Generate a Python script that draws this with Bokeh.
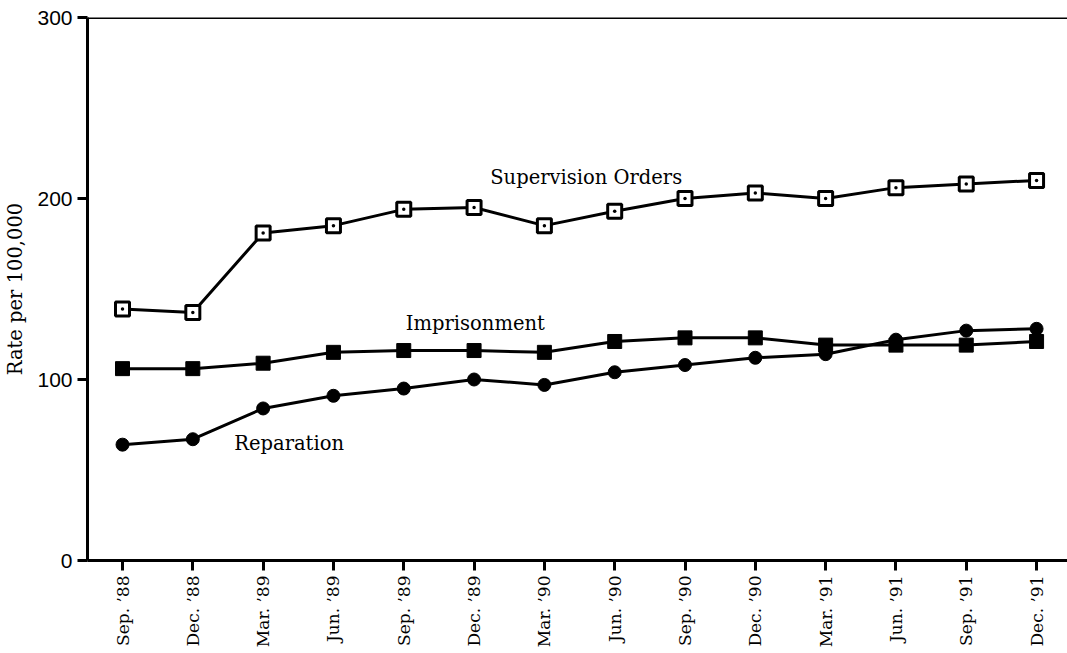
import math
from bokeh.plotting import figure
from bokeh.models import Range1d, FixedTicker, Span, Label
from bokeh.embed import file_html
from bokeh.resources import INLINE

quarters = ["Sep. ’88", "Dec. ’88", "Mar. ’89", "Jun. ’89", "Sep. ’89", "Dec. ’89",
            "Mar. ’90", "Jun. ’90", "Sep. ’90", "Dec. ’90", "Mar. ’91", "Jun. ’91",
            "Sep. ’91", "Dec. ’91"]
supervision = [139, 137, 181, 185, 194, 195, 185, 193, 200, 203, 200, 206, 208, 210]
imprisonment = [106, 106, 109, 115, 116, 116, 115, 121, 123, 123, 119, 119, 119, 121]
reparation = [64, 67, 84, 91, 95, 100, 97, 104, 108, 112, 114, 122, 127, 128]
y_ticks = [0, 100, 200, 300]

x = list(range(len(quarters)))

SERIF = "DejaVu Serif"

p = figure(width=1067, height=650, output_backend="svg", toolbar_location=None,
           x_range=Range1d(-0.498, 13.44), y_range=Range1d(0, 300),
           min_border_left=87, min_border_right=0, min_border_top=17, min_border_bottom=87)
p.outline_line_color = None
p.grid.visible = False
p.background_fill_color = "white"
p.border_fill_color = "white"

# top frame line
p.add_layout(Span(location=300, dimension="width", line_color="black", line_width=3))

# axes
p.xaxis.ticker = FixedTicker(ticks=x)
p.xaxis.major_label_overrides = {i: q for i, q in enumerate(quarters)}
p.xaxis.major_label_orientation = math.pi / 2
p.xaxis.major_label_text_font = SERIF
p.xaxis.major_label_text_font_size = "17px"
p.xaxis.major_label_text_color = "black"
p.xaxis.major_label_standoff = 5
p.yaxis.ticker = FixedTicker(ticks=y_ticks)
p.yaxis.major_label_text_font = "Liberation Sans"
p.yaxis.major_label_text_font_size = "21px"
p.yaxis.major_label_text_color = "black"
p.yaxis.major_label_standoff = 5
p.yaxis.axis_label = "Rate per 100,000"
p.yaxis.axis_label_text_font = SERIF
p.yaxis.axis_label_text_font_size = "19.5px"
p.yaxis.axis_label_text_font_style = "normal"
p.yaxis.axis_label_text_color = "black"
p.yaxis.axis_label_standoff = 7
for ax in (p.xaxis, p.yaxis):
    ax.axis_line_width = 3
    ax.axis_line_color = "black"
    ax.major_tick_line_width = 3
    ax.major_tick_line_color = "black"
    ax.major_tick_in = 0
    ax.major_tick_out = 10
    ax.minor_tick_line_color = None

# series
p.line(x, supervision, line_color="black", line_width=3)
p.scatter(x, supervision, marker="square_dot", size=14, fill_color="white",
          line_color="black", line_width=3)

p.line(x, imprisonment, line_color="black", line_width=3)
p.scatter(x, imprisonment, marker="square", size=14, fill_color="black",
          line_color="black", line_width=1)

p.line(x, reparation, line_color="black", line_width=3)
p.scatter(x, reparation, marker="circle", size=13, fill_color="black",
          line_color="black", line_width=1)

# series labels
for txt, lx, ly in [("Supervision Orders", 5.23, 211.5),
                    ("Imprisonment", 4.03, 130.8),
                    ("Reparation", 1.59, 64.8)]:
    p.add_layout(Label(x=lx, y=ly, text=txt, text_font=SERIF, text_font_size="19.5px",
                       text_color="black", text_align="left", text_baseline="middle"))

open("out.html", "w").write(file_html(p, INLINE))
